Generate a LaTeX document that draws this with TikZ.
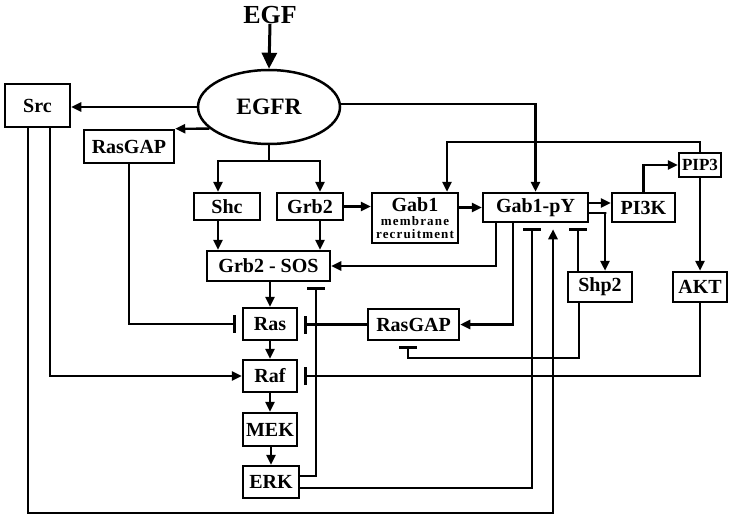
\documentclass[tikz,border=0pt]{standalone}
\usepackage{fontspec}
\setmainfont{Liberation Serif}
\usetikzlibrary{arrows.meta,shapes.geometric}
\begin{document}
\begin{tikzpicture}[x=1pt,y=-1pt,
  box/.style={draw, line width=2.5pt, inner sep=0pt, font=\bfseries\fontsize{20}{22}\selectfont},
  arr/.style={line width=2.4pt, -{Triangle[length=10pt,width=9pt]}},
  inh/.style={line width=2.4pt, -{Bar[width=18pt]}, shorten >=5pt},
  line join=miter]
\useasboundingbox (0,0) rectangle (734,519);
% nodes
\node[font=\bfseries\fontsize{26}{28}\selectfont, inner sep=0pt] (EGF) at (270,15) {EGF};
\node[draw, ellipse, line width=2.5pt, minimum width=142pt, minimum height=74pt, inner sep=0pt,
      font=\bfseries\fontsize{23.5}{25}\selectfont] (EGFR) at (269,107) {EGFR};
\node[box, minimum width=65pt, minimum height=43pt] (Src) at (37.5,105.5) {Src};
\node[box, minimum width=90pt, minimum height=33pt] (RasGAPa) at (129,146.5) {RasGAP};
\node[box, minimum width=66pt, minimum height=27pt] (Shc) at (227,206.5) {Shc};
\node[box, minimum width=66pt, minimum height=27pt] (Grb2) at (310,206.5) {Grb2};
\node[box, minimum width=86pt, minimum height=50pt, align=center,
      font=\bfseries\fontsize{13}{13}\selectfont\addfontfeature{LetterSpace=9}] (Gab1) at (415,218)
  {{\fontsize{20}{20}\selectfont\addfontfeature{LetterSpace=0}Gab1}\\[1.5pt]membrane\\[-0.5pt]recruitment};
\node[box, minimum width=105pt, minimum height=29pt] (Gab1pY) at (535.5,207.5) {Gab1-pY};
\node[box, minimum width=63pt, minimum height=29pt] (PI3K) at (643.5,207.5) {PI3K};
\node[box, minimum width=42pt, minimum height=24pt, font=\bfseries\fontsize{17}{18}\selectfont] (PIP3) at (700,165) {PIP3};
\node[box, minimum width=64pt, minimum height=30pt] (Shp2) at (600,287) {Shp2};
\node[box, minimum width=54pt, minimum height=30pt] (AKT) at (700,287) {AKT};
\node[box, minimum width=123pt, minimum height=30pt] (GrbSOS) at (268.5,266) {Grb2 - SOS};
\node[box, minimum width=91pt, minimum height=31pt] (RasGAPb) at (413.5,324.5) {RasGAP};
\node[box, minimum width=54pt, minimum height=32pt] (Ras) at (270,324) {Ras};
\node[box, minimum width=54pt, minimum height=32pt] (Raf) at (270,376) {Raf};
\node[box, minimum width=54pt, minimum height=33pt] (MEK) at (270,429.5) {MEK};
\node[box, minimum width=56pt, minimum height=32pt] (ERK) at (271,482) {ERK};
\coordinate (srcbot) at (28,513);
% connectors
\draw[line width=3pt, -{Triangle[length=16pt,width=15pt]}] (EGF.south) -- (EGFR.north);
\draw[arr] (EGFR.west) -- (EGFR.west -| Src.east);
\draw[arr] (EGFR.200) -- (RasGAPa.north east);
\draw[arr] (EGFR.south) -- ++(0,16) -| ([xshift=-9pt]Shc.north);
\draw[arr] (EGFR.south) -- ++(0,16) -| ([xshift=10pt]Grb2.north);
\draw[arr] ([xshift=-9pt]Shc.south) -- ([xshift=-9pt]Shc.south |- GrbSOS.north);
\draw[arr] ([xshift=10pt]Grb2.south) -- ([xshift=10pt]Grb2.south |- GrbSOS.north);
\draw[arr] (Grb2.east) -- (Grb2.east -| Gab1.west);
\draw[arr] (Gab1.east |- Gab1pY.west) -- (Gab1pY.west);
\draw[arr] ([yshift=3pt]EGFR.east) -| (Gab1pY.north);
\draw[arr] (PIP3.north) -- ++(0,-10) -| ([xshift=32pt]Gab1.north);
\draw[arr] ([yshift=4.5pt]Gab1pY.east) -- ([yshift=4.5pt]Gab1pY.east -| PI3K.west);
\draw[arr] (PI3K.north) |- (PIP3.west);
\draw[arr] ([yshift=-5.5pt]Gab1pY.east) -- ++(17,0) -| ([xshift=5pt]Shp2.north);
\draw[arr] (PIP3.south) -- (AKT.north);
\draw[arr] ([xshift=-39.5pt]Gab1pY.south) |- (GrbSOS.east);
\draw[arr] ([xshift=-22.5pt]Gab1pY.south) |- (RasGAPb.east);
\draw[inh] ([yshift=-6pt]ERK.east) -| ([xshift=-3.5pt]Gab1pY.south);
\draw[arr, shorten >=6pt] ([xshift=-9.5pt]Src.south) -- (srcbot) -| ([xshift=17.5pt]Gab1pY.south);
\draw[inh] ([xshift=-22pt]Shp2.north) -- ([xshift=-22pt]Shp2.north |- Gab1pY.south);
\draw[inh] ([xshift=-21pt]Shp2.south) -- ++(0,55) -| ([xshift=-5.5pt]RasGAPb.south);
\draw[inh, shorten >=6pt] (AKT.south) |- (Raf.east);
\draw[inh, shorten >=6pt] (RasGAPb.west) -- (RasGAPb.west -| Ras.east);
\draw[inh, shorten >=6pt] (RasGAPa.south) |- (Ras.west);
\draw[arr] ([xshift=12.5pt]Src.south) |- (Raf.west);
\draw[arr] (Ras.north |- GrbSOS.south) -- (Ras.north);
\draw[arr] (Ras.south) -- (Raf.north);
\draw[arr] (Raf.south) -- (MEK.north);
\draw[arr] (MEK.south -| ERK.north) -- (ERK.north);
\draw[inh] ([yshift=6pt]ERK.east) -| ([xshift=47.5pt]GrbSOS.south);
\end{tikzpicture}
\end{document}
